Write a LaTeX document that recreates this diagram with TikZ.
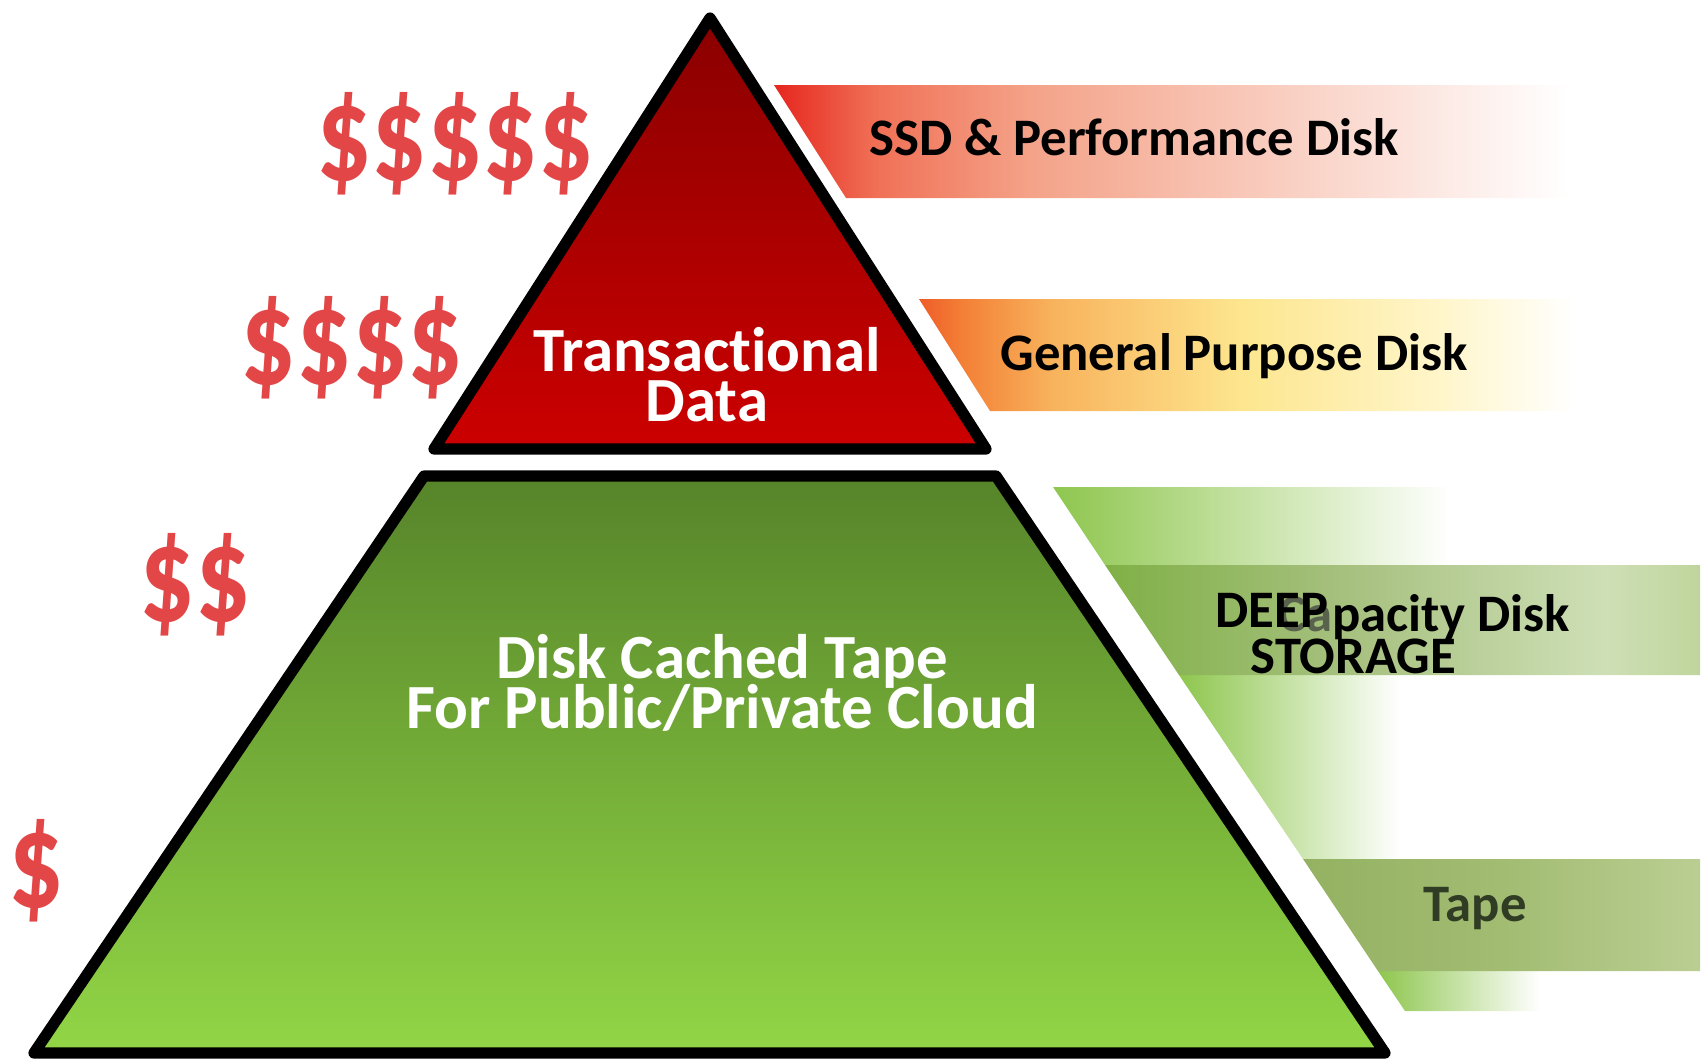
\documentclass[tikz,border=0pt]{standalone}
\usepackage{fontspec}
\setmainfont{Carlito}[Ligatures={NoCommon,NoContextual}]
\usepackage{tikz}
\usepackage{xcolor}

\newcommand\tightlines{\setlength{\lineskiplimit}{-30pt}}

\definecolor{tiptop}{RGB}{138,0,0}
\definecolor{tipbase}{RGB}{204,0,0}
\definecolor{basetop}{RGB}{86,132,42}
\definecolor{basebottom}{RGB}{146,214,70}
\definecolor{dollarred}{RGB}{226,70,70}
\definecolor{fadegreen}{RGB}{142,198,78}
\definecolor{tapetext}{RGB}{48,60,36}
\definecolor{capgray}{RGB}{88,98,76}
% band colours
\definecolor{ssdA}{RGB}{230,38,30}
\definecolor{ssdB}{RGB}{240,112,86}
\definecolor{ssdC}{RGB}{244,162,136}
\definecolor{ssdD}{RGB}{249,206,193}
\definecolor{ssdE}{RGB}{253,238,234}
\definecolor{gpA}{RGB}{238,92,40}
\definecolor{gpB}{RGB}{243,128,54}
\definecolor{gpC}{RGB}{248,178,92}
\definecolor{gpD}{RGB}{253,230,142}
\definecolor{gpE}{RGB}{255,246,204}
\definecolor{capA}{RGB}{128,176,70}
\definecolor{capB}{RGB}{166,192,126}
\definecolor{capC}{RGB}{206,223,182}
\definecolor{capD}{RGB}{192,213,156}
\definecolor{tapeA}{RGB}{148,178,98}
\definecolor{tapeB}{RGB}{162,188,114}
\definecolor{tapeC}{RGB}{186,206,146}

\pgfdeclarehorizontalshading{ssdband}{100bp}{color(0bp)=(ssdA); color(25bp)=(ssdA);
  color(31bp)=(ssdB); color(40bp)=(ssdC); color(55bp)=(ssdD); color(66bp)=(ssdE);
  color(72bp)=(white); color(100bp)=(white)}
\pgfdeclarehorizontalshading{gpband}{100bp}{color(0bp)=(gpA); color(25bp)=(gpA);
  color(28bp)=(gpB); color(34bp)=(gpC); color(47bp)=(gpD); color(61bp)=(gpE);
  color(70bp)=(white); color(100bp)=(white)}
\pgfdeclarehorizontalshading{capband}{100bp}{color(0bp)=(capA); color(25bp)=(capA);
  color(45bp)=(capB); color(67bp)=(capC); color(75bp)=(capD); color(100bp)=(capD)}
\pgfdeclarehorizontalshading{tapeband}{100bp}{color(0bp)=(tapeA); color(25bp)=(tapeA);
  color(50bp)=(tapeB); color(75bp)=(tapeC); color(100bp)=(tapeC)}

\begin{document}
\begin{tikzpicture}[x=0.1mm,y=-0.1mm,line join=round,
  tier/.style={draw=black,line width=3.2pt},
  inlabel/.style={text=white,font=\bfseries\fontsize{17.9}{14.2}\selectfont\tightlines,align=center,inner sep=0pt},
  bandlabel/.style={text=black,font=\bfseries\fontsize{15}{13}\selectfont\tightlines,inner sep=0pt},
  cost/.style={text=dollarred,font=\bfseries\fontsize{39}{39}\selectfont,inner sep=0pt,xscale=0.8}]
\useasboundingbox (0,0) rectangle (1705,1060);

% bands to the right
\shade[shading=ssdband] (774,85) -- (1620,85) -- (1620,198) -- (846,198) -- cycle;
\shade[shading=gpband] (919,299) -- (1650,299) -- (1650,411) -- (990,411) -- cycle;
\shade[left color=fadegreen,right color=white] (1053,487) -- (1450,487) -- (1450,565) -- (1105,565) -- cycle;
\shade[left color=fadegreen,right color=white] (1179,675) -- (1400,675) -- (1400,859) -- (1303,859) -- cycle;
\shade[left color=fadegreen,right color=white] (1378,971) -- (1540,971) -- (1540,1011) -- (1405,1011) -- cycle;
\shade[shading=capband] (1105,565) -- (1700,565) -- (1700,675) -- (1179,675) -- cycle;
\shade[shading=tapeband] (1303,859) -- (1700,859) -- (1700,971) -- (1378,971) -- cycle;

% the two tiers
\shadedraw[tier,top color=tiptop,bottom color=tipbase] (710,18) -- (986,449) -- (434,449) -- cycle;
\shadedraw[tier,top color=basetop,bottom color=basebottom] (424,476) -- (996,476) -- (1385,1053) -- (34,1053) -- cycle;

\node[inlabel] (trans) at (707,375) {Transactional\\Data};
\node[inlabel] (cached) at (722,683) {Disk Cached Tape\\For Public/Private Cloud};

\node[bandlabel,anchor=base] (ssd) at (1134,155) {SSD \& Performance Disk};
\node[bandlabel,anchor=base] (general) at (1234,370) {General Purpose Disk};
\node[bandlabel,anchor=base] (capacity) at (1424,631) {\textcolor{capgray}{Ca}pacity Disk};
\node[bandlabel,align=left,anchor=base west] (deep) at (1215,673) {DEEP\\\hspace*{0.35cm}STORAGE};
\node[bandlabel,text=tapetext,anchor=base] (tape) at (1475,921) {Tape};

% cost
\node[cost] (five) at (455,144) {\$\$\$\$\$};
\node[cost] (four) at (352,348) {\$\$\$\$};
\node[cost] (two) at (195,585) {\$\$};
\node[cost] (one) at (36,871) {\$};
\end{tikzpicture}
\end{document}
